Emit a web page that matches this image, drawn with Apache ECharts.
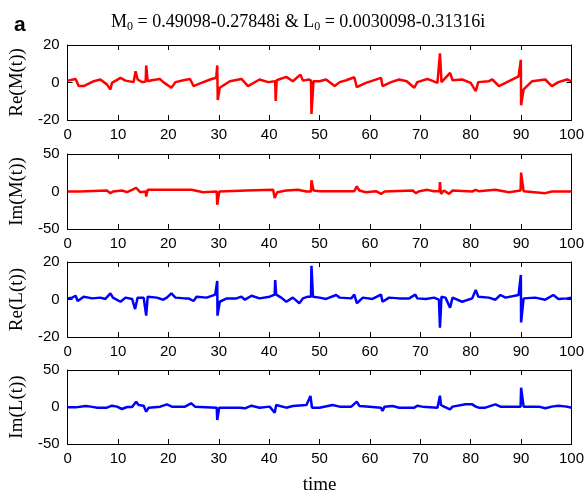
<!DOCTYPE html>
<html>
<head>
<meta charset="utf-8">
<script src="https://cdn.jsdelivr.net/npm/echarts@6/dist/echarts.min.js"></script>
<style>
  html, body { margin: 0; padding: 0; background: #fff; }
  #chart { width: 587px; height: 496px; }
</style>
</head>
<body>
<div id="chart"></div>
<script>
// Time series [t, value] for the four panels
const reM = [
  [0, 1.0], [1.6, 1.9], [2.2, -1.9], [3.2, -1.9], [5.2, 0.7], [6.5, 1.6], [7.8, -1.0], [8.5, -3.7], [8.8, -0.2],
  [10.5, 2.5], [11.5, 1.0], [13.1, 0.2], [13.5, 6.0], [13.9, 1.6], [14.8, 0.2], [15.5, 0.5], [15.6, 9.1], [15.9, 0.7],
  [16.7, 1.2], [18.3, 1.9], [19.0, 0.2], [20.6, -2.8], [21.4, 0.2], [23.0, 1.2], [24.3, 1.9], [25.0, -1.9], [26.3, -0.5],
  [28.3, 1.6], [29.5, 2.5], [29.7, 9.1], [29.8, -9.3], [30.2, -2.8], [32.2, 0.7], [34.5, 1.9], [35.8, -1.9], [38.1, 1.6],
  [39.8, 0.2], [41.2, 0.7], [41.3, -9.8], [41.5, 1.2], [43.4, 3.0], [44.7, 0.7], [46.2, 4.2], [46.7, 1.0], [47.9, 1.6],
  [48.3, 1.0], [48.4, -16.8], [48.8, 0.7], [50.0, 0.7], [51.3, 1.6], [53.0, -1.9], [54.0, 0.2], [55.3, 1.2], [56.9, 2.8],
  [57.4, -2.5], [59.2, -0.2], [62.2, 2.5], [62.5, -1.9], [64.2, 0.2], [65.8, 1.6], [67.3, 0.7], [68.8, -2.8], [69.4, 0.2],
  [71.4, 1.9], [73.4, -0.2], [73.9, 15.6], [74.2, 0.2], [75.9, 5.1], [76.4, 1.2], [78.3, 1.6], [80.0, -0.2], [81.0, -4.6],
  [81.5, 0.2], [83.6, 0.7], [84.3, 1.6], [85.6, -1.9], [86.9, -0.2], [89.5, 3.3], [89.95, 12.1], [90.0, -12.1], [90.5, -3.7],
  [92.2, 0.7], [94.8, 1.6], [96.1, -1.9], [97.4, 0.2], [99.1, 1.6], [100, 0.7]
];
const imM = [
  [0, 0], [1.6, 0], [1.9, -1.8], [2.3, 0], [7.8, 1.3], [8.5, -2.2], [9.0, 0], [10.8, 1.3], [11.8, -0.9], [12.8, 2.2],
  [13.6, 5.0], [14.4, -0.9], [15.5, 0], [15.6, -6.8], [15.9, 2.2], [20.4, 2.2], [20.7, 0], [24.6, 2.2], [26.9, -0.9],
  [29.6, 0], [29.7, -17.6], [30.1, 0], [35.5, 1.3], [40.8, 2.2], [41.1, -8.6], [41.6, -0.9], [43.4, 1.3], [45.7, 2.2],
  [47.4, 0], [48.3, 0], [48.4, 14.9], [48.8, 1.3], [50.0, 0.4], [56.9, 0.4], [57.4, 6.8], [57.9, 1.3], [59.2, -0.9],
  [61.2, 0.4], [62.2, -3.2], [62.9, 0], [68.5, 1.3], [69.1, -2.2], [69.8, 0.4], [71.4, 2.2], [72.7, 0.4], [73.8, 0.4],
  [73.9, 12.6], [74.1, -3.2], [74.7, 1.3], [75.7, -3.2], [76.4, 1.3], [80.3, 0], [81.0, 2.2], [81.6, 0.4], [84.9, 2.2],
  [87.6, -0.9], [89.9, 1.3], [90.0, 25.2], [90.5, 0.4], [94.8, -2.2], [96.1, 0], [100, 0]
];
const reL = [
  [0, 0.6], [0.9, 1.0], [1.6, 2.0], [2.0, -0.8], [3.2, 1.5], [4.9, 0.6], [6.5, 1.0], [7.5, 0.3], [8.5, 3.3], [9.0, 1.0],
  [10.5, -1.2], [11.5, 1.0], [12.8, 0.3], [13.4, -5.1], [13.9, 1.0], [15.1, 1.0], [15.6, -8.6], [15.9, 1.5], [17.7, 1.0],
  [19.0, -0.1], [19.7, 1.0], [20.6, 3.3], [21.4, 1.0], [23.3, 0.6], [24.0, 0.6], [25.0, -0.8], [25.6, 1.5], [27.6, 1.0],
  [29.3, 2.6], [29.7, 9.9], [29.75, -8.6], [30.2, -1.2], [31.6, 0.6], [33.5, 0.6], [34.5, 1.5], [35.2, -0.1], [36.5, 2.0],
  [38.1, 0.6], [40.1, 1.5], [41.1, 2.6], [41.2, 10.4], [41.4, 2.6], [42.4, 1.0], [43.4, -1.2], [44.7, 1.0], [46.0, -2.0],
  [46.7, 0.6], [47.7, 1.5], [48.3, 1.5], [48.4, 18.0], [48.7, 1.5], [50.0, 1.0], [51.3, 0.3], [53.3, 2.4], [54.0, 1.0],
  [56.3, 0.6], [56.9, 2.6], [57.4, -2.0], [58.6, 1.0], [60.5, 0.3], [62.2, 2.6], [62.5, -1.2], [63.8, 1.0], [65.8, 0.6],
  [67.8, 0.6], [69.0, 2.6], [69.4, 0.6], [71.1, 0.3], [72.7, 1.0], [73.7, -0.1], [73.9, -15.0], [74.2, 1.5], [75.0, 1.0],
  [75.9, -4.4], [76.4, 1.0], [78.3, -1.2], [80.3, 0.6], [81.0, 5.1], [81.5, 1.5], [83.6, 1.0], [84.9, -0.1], [85.9, 2.4],
  [86.9, 1.0], [89.5, 2.4], [89.95, 13.1], [90.0, -12.2], [90.5, 0.6], [92.8, 1.0], [94.8, -0.1], [96.4, 2.4], [97.4, 0.3],
  [99.1, 0.6], [100, 1.0]
];
const imL = [
  [0, -0.5], [1.6, -0.5], [1.9, -3.2], [3.6, 1.4], [4.6, 0.5], [5.9, -0.9], [7.8, -0.9], [8.8, 1.8], [9.8, 0.5],
  [10.8, -2.7], [11.8, 0], [12.8, 0], [13.6, 7.2], [14.1, 2.7], [15.1, 1.8], [15.6, -6.3], [16.1, -0.9], [18.4, 0.5],
  [19.7, 3.6], [20.7, 0.5], [23.3, 0.5], [24.5, 5.0], [25.3, 0.5], [29.6, -0.9], [29.7, -17.6], [30.1, -0.9], [34.2, -0.9],
  [35.2, -1.8], [36.5, 1.8], [38.1, -0.9], [40.1, 0.5], [41.1, -7.7], [41.4, 2.7], [43.4, -0.9], [44.7, 1.4], [47.4, 2.7],
  [48.2, 14.9], [48.5, -0.9], [50.0, -0.9], [52.6, 2.7], [54.0, 0.5], [56.3, 0.5], [57.4, 7.2], [57.9, 1.4], [59.9, 0.5],
  [62.2, -0.9], [62.5, -5.4], [62.9, 0.5], [64.5, 1.4], [65.8, -0.9], [67.1, -0.9], [68.8, -0.9], [69.4, 1.8], [70.4, 0.5],
  [73.4, -0.9], [73.9, 15.3], [74.1, 2.7], [74.7, 0.5], [75.9, -3.2], [76.4, 0.5], [79.0, 3.6], [80.3, 3.6], [81.0, 0.5],
  [81.6, -0.9], [82.9, -0.9], [84.9, 3.6], [85.9, 0.5], [87.9, 0.5], [89.9, 0.5], [90.0, 26.1], [90.5, 0.5], [93.5, 0.5],
  [94.8, -1.8], [96.1, 0.5], [97.4, 1.8], [99.1, 0.5], [100, -0.9]
];

const panelNames = ['Re(M(t))', 'Im(M(t))', 'Re(L(t))', 'Im(L(t))'];
const panelData = [reM, imM, reL, imL];
const panelColors = ['#ff0000', '#ff0000', '#0000ff', '#0000ff'];
const panelRanges = [20, 50, 20, 50];
const timeRange = [0, 100];
const timeStep = 10;
const xName = 'time';
const titleParts = ['M', '0', ' = 0.49098-0.27848i & L', '0', ' = 0.0030098-0.31316i'];
const panelLetter = 'a';

const SANS = 'Liberation Sans, Arial, sans-serif';
const SERIF = 'Liberation Serif, Times New Roman, serif';
const tops = [45, 154, 262, 370];
const plotH = 75;

const grid = [], xAxis = [], yAxis = [], series = [];
tops.forEach((top, i) => {
  grid.push({ left: 67, right: 14, top: top, height: plotH, show: false });
  const r = panelRanges[i];
  const tick = { inside: true, length: 5, lineStyle: { color: '#000', width: 1 } };
  const line = { show: true, onZero: false, lineStyle: { color: '#000', width: 1 } };
  // bottom axis with labels
  xAxis.push({
    type: 'value', gridIndex: i, position: 'bottom', min: timeRange[0], max: timeRange[1], interval: timeStep,
    axisLine: line, axisTick: tick, splitLine: { show: false },
    axisLabel: { color: '#000', fontFamily: SANS, fontSize: 15, margin: 7 },
    name: i === 3 ? xName : '', nameLocation: 'middle', nameGap: 32,
    nameTextStyle: { color: '#000', fontFamily: SERIF, fontSize: 19 }
  });
  // top mirror axis
  xAxis.push({
    type: 'value', gridIndex: i, position: 'top', min: timeRange[0], max: timeRange[1], interval: timeStep,
    axisLine: line, axisTick: tick, splitLine: { show: false }, axisLabel: { show: false }
  });
  yAxis.push({
    type: 'value', gridIndex: i, position: 'left', min: -r, max: r, interval: r,
    axisLine: line, axisTick: tick, splitLine: { show: false },
    axisLabel: { color: '#000', fontFamily: SANS, fontSize: 15, margin: 8 },
    name: panelNames[i], nameLocation: 'middle', nameGap: 40,
    nameTextStyle: { color: '#000', fontFamily: SERIF, fontSize: 19 }
  });
  // right mirror axis
  yAxis.push({
    type: 'value', gridIndex: i, position: 'right', min: -r, max: r, interval: r,
    axisLine: line, axisTick: tick, splitLine: { show: false }, axisLabel: { show: false }
  });
  series.push({
    type: 'line', xAxisIndex: 2 * i, yAxisIndex: 2 * i, data: panelData[i],
    showSymbol: false, symbol: 'none', lineStyle: { color: panelColors[i], width: 2.5 },
    itemStyle: { color: panelColors[i] }, z: 3
  });
});

const chart = echarts.init(document.getElementById('chart'), null, { renderer: 'canvas' });
chart.setOption({
  animation: false,
  backgroundColor: '#fff',
  title: [
    {
      text: panelLetter, left: 9, top: 10,
      textStyle: { color: '#000', fontFamily: SANS, fontWeight: 'bold', fontSize: 21 }
    },
    {
      text: '{m|' + titleParts[0] + '}{s|' + titleParts[1] + '}{m|' + titleParts[2] + '}{s|' + titleParts[3] + '}{m|' + titleParts[4] + '}',
      left: 106, top: 6,
      textStyle: {
        fontWeight: 'normal',
        rich: {
          m: { color: '#000', fontFamily: SERIF, fontWeight: 'normal', fontSize: 18, lineHeight: 22 },
          s: { color: '#000', fontFamily: SERIF, fontWeight: 'normal', fontSize: 12, lineHeight: 9, verticalAlign: 'bottom' }
        }
      }
    }
  ],
  grid: grid,
  xAxis: xAxis,
  yAxis: yAxis,
  series: series
});
</script>
</body>
</html>
